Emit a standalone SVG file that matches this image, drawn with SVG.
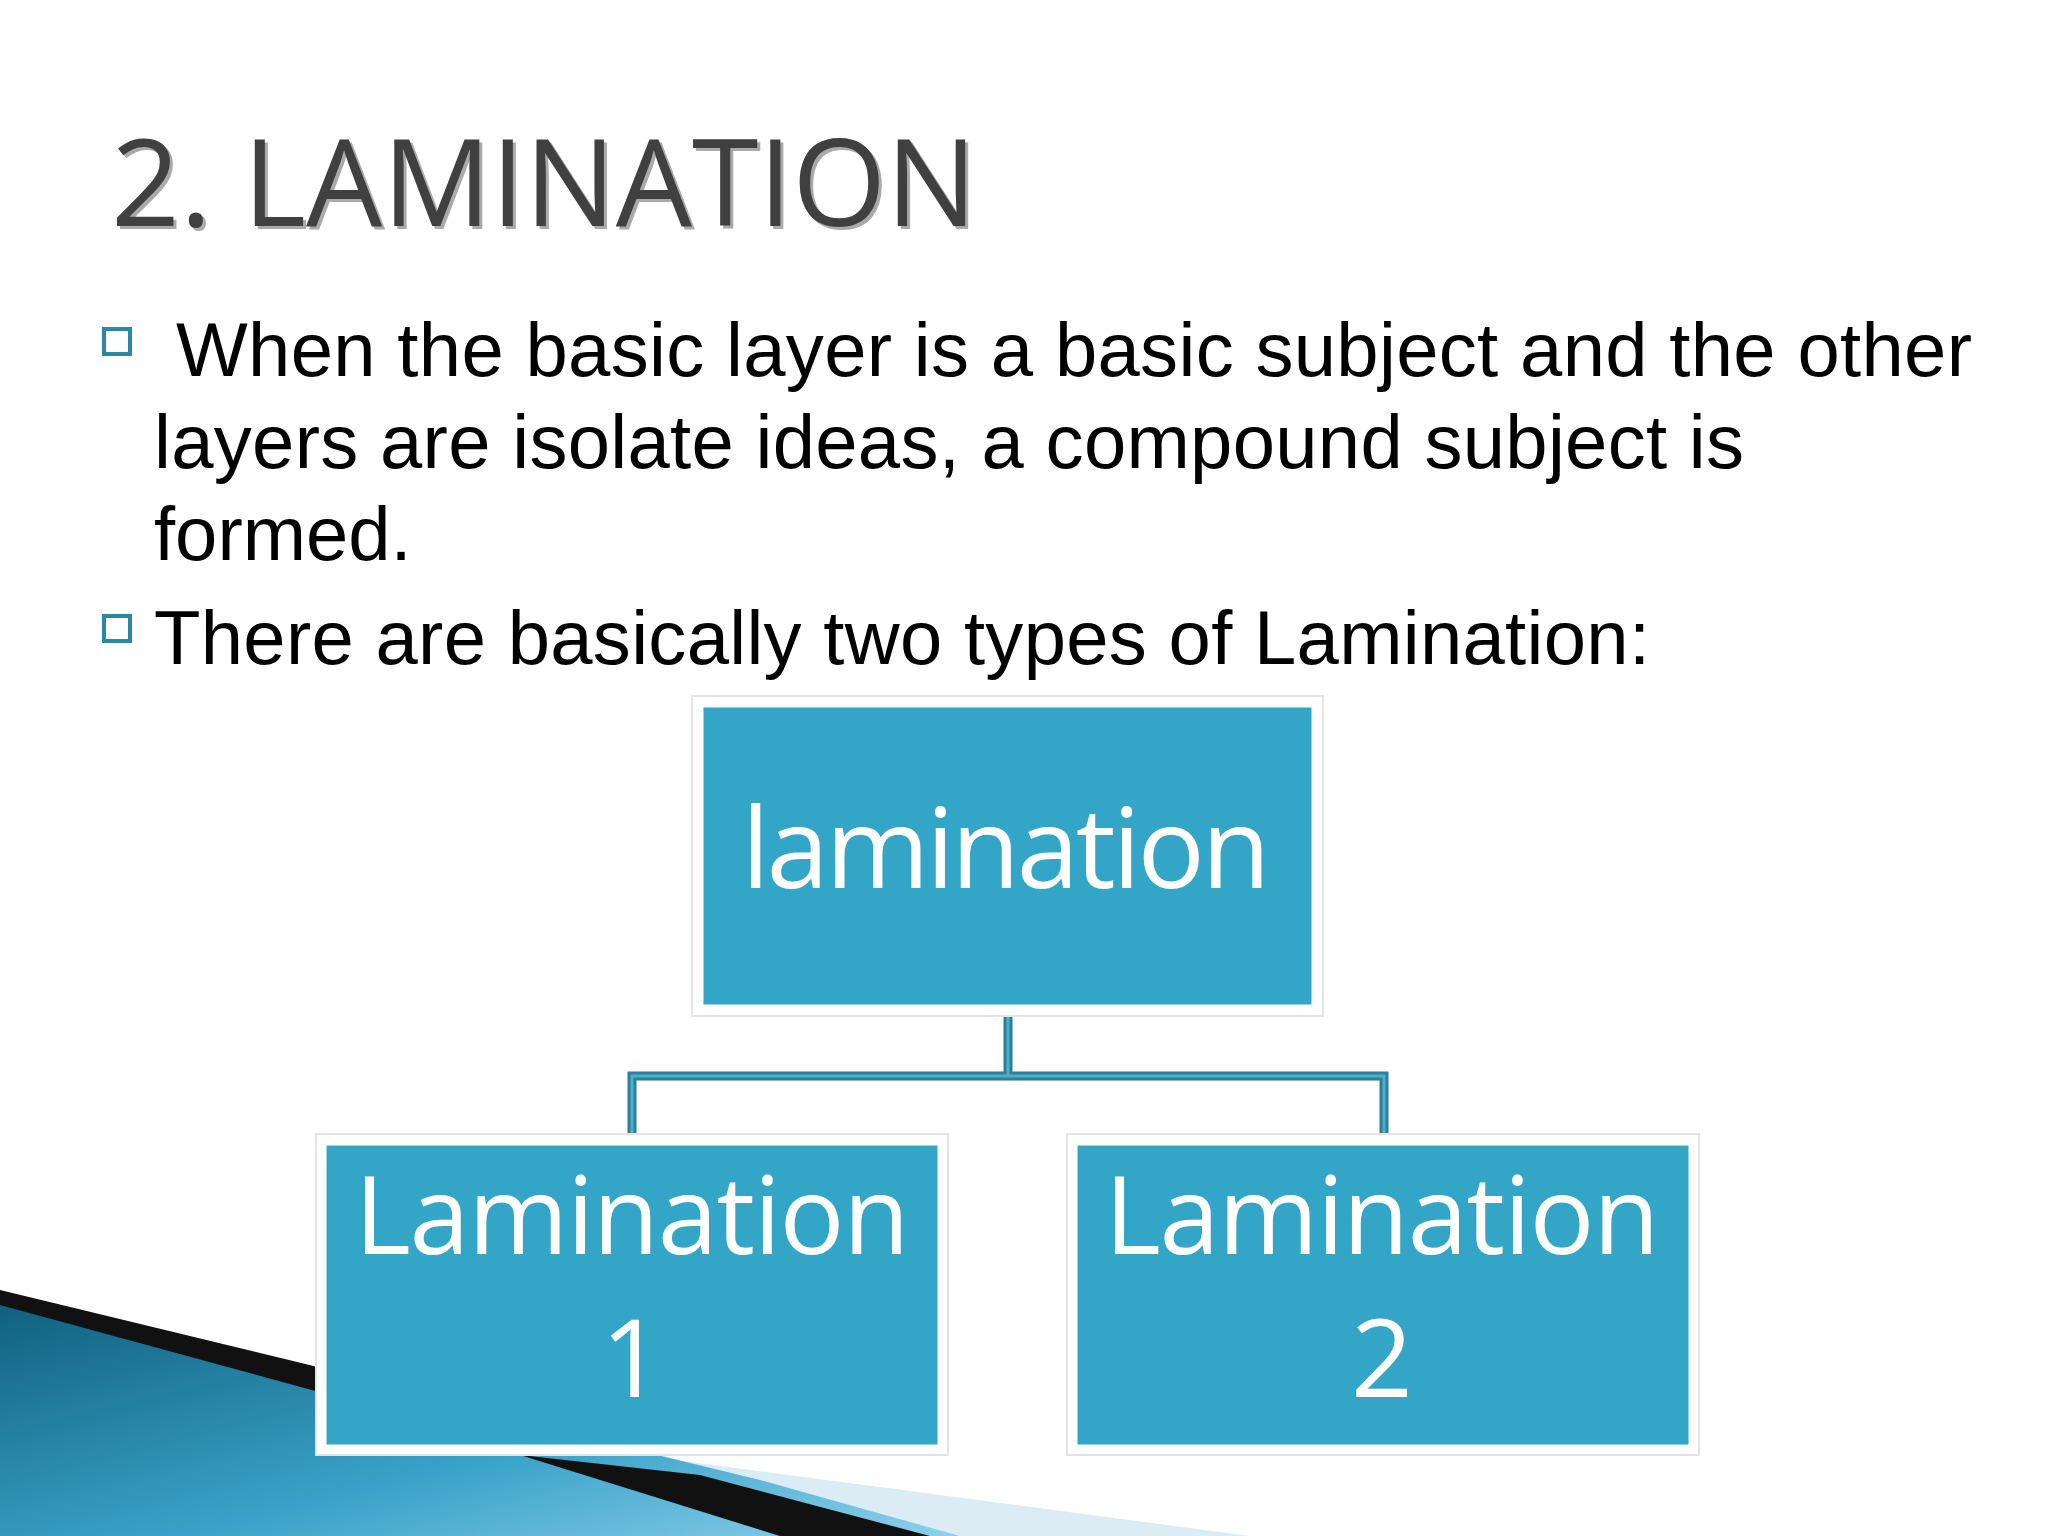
<svg xmlns="http://www.w3.org/2000/svg" width="2048" height="1536" viewBox="0 0 2048 1536">
<defs>
<linearGradient id="sw" x1="0" y1="0" x2="1" y2="1"><stop offset="0" stop-color="#0f5e7c"/><stop offset="0.6" stop-color="#3aa3c9"/><stop offset="1" stop-color="#8fd0ea"/></linearGradient>
<style>
.body{font-family:"Liberation Sans",Arial,sans-serif;font-size:76px;fill:#000}
.box{fill:#33a6c8;stroke:#fff;stroke-width:5}
.frame{fill:#fff;stroke:#e4e4e4;stroke-width:2}
.lbl{font-family:"Open Sans","DejaVu Sans",sans-serif;fill:#fff;text-anchor:middle}
.bul{fill:#fff;stroke:#2b87a8;stroke-width:4}
.ttl{font-family:"Open Sans","DejaVu Sans",sans-serif;font-size:120px}
</style>
</defs>
<rect width="2048" height="1536" fill="#fff"/>
<polygon points="0,1290 600,1450 1250,1536 0,1536" fill="#dcecf4"/>
<polygon points="0,1295 330,1375 760,1480 960,1536 0,1536" fill="url(#sw)"/>
<polygon points="0,1290 330,1370 330,1395 0,1305" fill="#111"/>
<polygon points="520,1455 700,1475 930,1536 780,1536" fill="#111"/>
<text class="ttl" x="114" y="229" fill="#aaa" textLength="866" lengthAdjust="spacingAndGlyphs">2. LAMINATION</text>
<text class="ttl" x="111" y="226" fill="#404040" textLength="866" lengthAdjust="spacingAndGlyphs">2. LAMINATION</text>
<rect class="bul" x="104" y="329" width="26" height="25"/>
<rect class="bul" x="104" y="616" width="26" height="25"/>
<text class="body" x="176" y="376" textLength="1796">When the basic layer is a basic subject and the other</text>
<text class="body" x="154" y="468" textLength="1590">layers are isolate ideas, a compound subject is</text>
<text class="body" x="154" y="560">formed.</text>
<text class="body" x="154" y="664" textLength="1496">There are basically two types of Lamination:</text>
<g id="connectors" fill="none">
<path d="M1008,1016 V1076 M632,1134 V1076 H1384 V1134" stroke="#2a7f99" stroke-width="9"/>
<path d="M1008,1016 V1076 M632,1134 V1076 H1384 V1134" stroke="#4fb0cc" stroke-width="3"/>
</g>
<g id="top">
<rect class="frame" x="692" y="696" width="631" height="320"/>
<rect class="box" x="701" y="705" width="613" height="302"/>
<text class="lbl" x="1006" y="888" font-size="112" textLength="529">lamination</text>
</g>
<g id="lam1">
<rect class="frame" x="316" y="1134" width="632" height="321"/>
<rect class="box" x="324" y="1143" width="616" height="304"/>
<text class="lbl" x="632" y="1254" font-size="108" textLength="555">Lamination</text>
<text class="lbl" x="632" y="1397" font-size="108">1</text>
</g>
<g id="lam2">
<rect class="frame" x="1067" y="1134" width="632" height="321"/>
<rect class="box" x="1075" y="1143" width="616" height="304"/>
<text class="lbl" x="1382" y="1254" font-size="108" textLength="555">Lamination</text>
<text class="lbl" x="1382" y="1397" font-size="108">2</text>
</g>
</svg>
